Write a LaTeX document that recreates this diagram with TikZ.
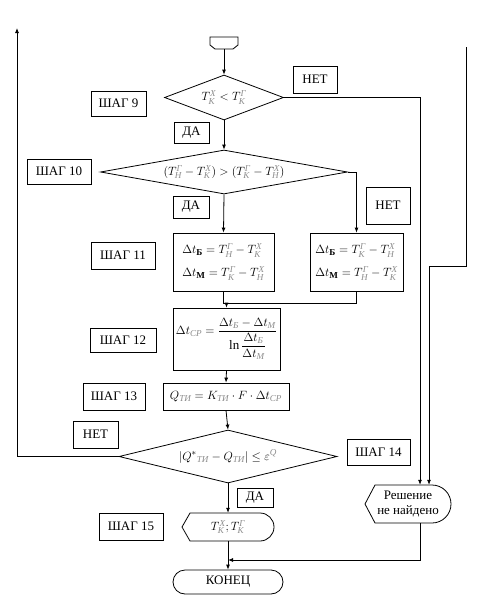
\documentclass[tikz,border=0pt]{standalone}
\usepackage{amsmath}
\usepackage{fontspec}
\setmainfont{Liberation Serif}
\usetikzlibrary{shapes.geometric,arrows.meta}
\newcommand{\sx}[1]{\text{\color{black!45}\itshape #1}}
\newcommand{\sbold}[1]{\text{\bfseries #1}}
\begin{document}
\begin{tikzpicture}[x=1pt,y=-1pt,
  every node/.style={font=\fontsize{13}{15}\selectfont, inner sep=0pt},
  lbl/.style={draw, line width=0.8pt, rectangle},
  proc/.style={draw, line width=0.8pt, rectangle},
  dec/.style={draw, line width=0.8pt, diamond},
  ln/.style={line width=0.8pt},
  arr/.style={line width=0.8pt, -{Latex[length=5pt,width=4pt]}}]
\useasboundingbox (0,0) rectangle (480,608);

% start connector
\draw[ln] (210,37) -- (238,37) -- (238,45) -- (233,49) -- (215,49) -- (210,45) -- cycle;
\coordinate (start) at (224,49);

% decisions
\node[dec, minimum width=119pt, minimum height=45pt, shape aspect=2.6] (d1) at (224,97.5)
  {$T^{\sx{Х}}_{\sx{К}} < T^{\sx{Г}}_{\sx{К}}$};
\node[dec, minimum width=247pt, minimum height=44pt, shape aspect=5.6] (d2) at (224,172)
  {$(T^{\sx{Г}}_{\sx{Н}} - T^{\sx{Х}}_{\sx{К}}) > (T^{\sx{Г}}_{\sx{К}} - T^{\sx{Х}}_{\sx{Н}})$};
\node[dec, minimum width=218pt, minimum height=53pt, shape aspect=4.1] (d3) at (228,456.5)
  {$\left|Q^{*}{}_{\sx{ТИ}} - Q_{\sx{ТИ}}\right| \le \varepsilon^{\sx{Q}}$};

% process boxes
\node[proc, minimum width=101pt, minimum height=58pt, align=left] (b11l) at (223.5,262)
  {$\Delta t_{\sbold{Б}} = T^{\sx{Г}}_{\sx{Н}} - T^{\sx{Х}}_{\sx{К}}$\\[8pt]$\Delta t_{\sbold{М}} = T^{\sx{Г}}_{\sx{К}} - T^{\sx{Х}}_{\sx{Н}}$};
\node[proc, minimum width=93pt, minimum height=58pt, align=left] (b11r) at (356.5,262)
  {$\Delta t_{\sbold{Б}} = T^{\sx{Г}}_{\sx{К}} - T^{\sx{Х}}_{\sx{Н}}$\\[8pt]$\Delta t_{\sbold{М}} = T^{\sx{Г}}_{\sx{Н}} - T^{\sx{Х}}_{\sx{К}}$};
\node[proc, minimum width=107pt, minimum height=62pt] (b12) at (226.5,339)
  {$\Delta t_{\sx{СР}} = \dfrac{\Delta t_{\sx{Б}} - \Delta t_{\sx{М}}}{\ln\dfrac{\Delta t_{\sx{Б}}}{\Delta t_{\sx{М}}}}$};
\node[proc, minimum width=126pt, minimum height=27pt] (b13) at (226,396.5)
  {$Q_{\sx{ТИ}} = K_{\sx{ТИ}} \cdot F \cdot \Delta t_{\sx{СР}}$};

% output shapes
\draw[ln] (182,527) -- (190,513) {[rounded corners=14pt] -- (274,513) -- (274,541)} -- (190,541) -- cycle;
\node[minimum width=92pt, minimum height=28pt] (o15) at (228,527)
  {$T^{\sx{Х}}_{\sx{К}};T^{\sx{Г}}_{\sx{К}}$};
\draw[ln] (365,504) -- (375,485) {[rounded corners=19pt] -- (451,485) -- (451,523)} -- (375,523) -- cycle;
\node[minimum width=86pt, minimum height=38pt, align=center] (res) at (408,504)
  {Решение\\не найдено};
\node[draw, line width=0.8pt, rounded corners=12pt, minimum width=110pt, minimum height=24pt] (kon) at (228,582) {КОНЕЦ};

% labels
\node[lbl, minimum width=55pt, minimum height=25pt] (s9) at (118.5,103.5) {ШАГ 9};
\node[lbl, minimum width=44pt, minimum height=27pt] (n1) at (315,79.5) {НЕТ};
\node[lbl, minimum width=35pt, minimum height=21pt] (y1) at (191.5,132.5) {ДА};
\node[lbl, minimum width=64pt, minimum height=25pt] (s10) at (59,171.5) {ШАГ 10};
\node[lbl, minimum width=36pt, minimum height=22pt] (y2) at (191,207) {ДА};
\node[lbl, minimum width=44pt, minimum height=37pt] (n2) at (388,205.5) {НЕТ};
\node[lbl, minimum width=64pt, minimum height=27pt] (s11) at (123,255.5) {ШАГ 11};
\node[lbl, minimum width=66pt, minimum height=24pt] (s12) at (123,340) {ШАГ 12};
\node[lbl, minimum width=62pt, minimum height=27pt] (s13) at (114,396.5) {ШАГ 13};
\node[lbl, minimum width=45pt, minimum height=27pt] (n3) at (95.5,434.5) {НЕТ};
\node[lbl, minimum width=63pt, minimum height=26pt] (s14) at (378.5,452) {ШАГ 14};
\node[lbl, minimum width=36pt, minimum height=19pt] (y3) at (255,497.5) {ДА};
\node[lbl, minimum width=64pt, minimum height=27pt] (s15) at (131,526.5) {ШАГ 15};

% connectors
\draw[arr] (start) -- (d1.north);
\draw[arr] (d1.south) -- (d2.north);
\draw[arr] (d1.east) -| ([xshift=12pt]res.north);
\coordinate (topin) at (466,47);
\draw[arr] (topin) -- ++(0,219) -| ([xshift=21pt]res.north);
\draw[arr] (d2.east) -| (b11r.north);
\draw[arr] (d2.south) -- (b11l.north);
\draw[ln] (b11l.south) -- ++(0,12) coordinate (j1) -| (b11r.south);
\draw[arr] (b12.north |- j1) -- (b12.north);
\draw[arr] (b12.south) -- (b13.north);
\draw[arr] (b13.south) -- (d3.north);
\coordinate (loopend) at (17,28);
\draw[arr] (d3.west) -| (loopend);
\draw[arr] (d3.south) -- (o15.north);
\coordinate (m) at (228,560);
\draw[arr] ([xshift=12pt]res.south) |- (m);
\draw[arr] (o15.south) -- (kon.north);
\end{tikzpicture}
\end{document}
